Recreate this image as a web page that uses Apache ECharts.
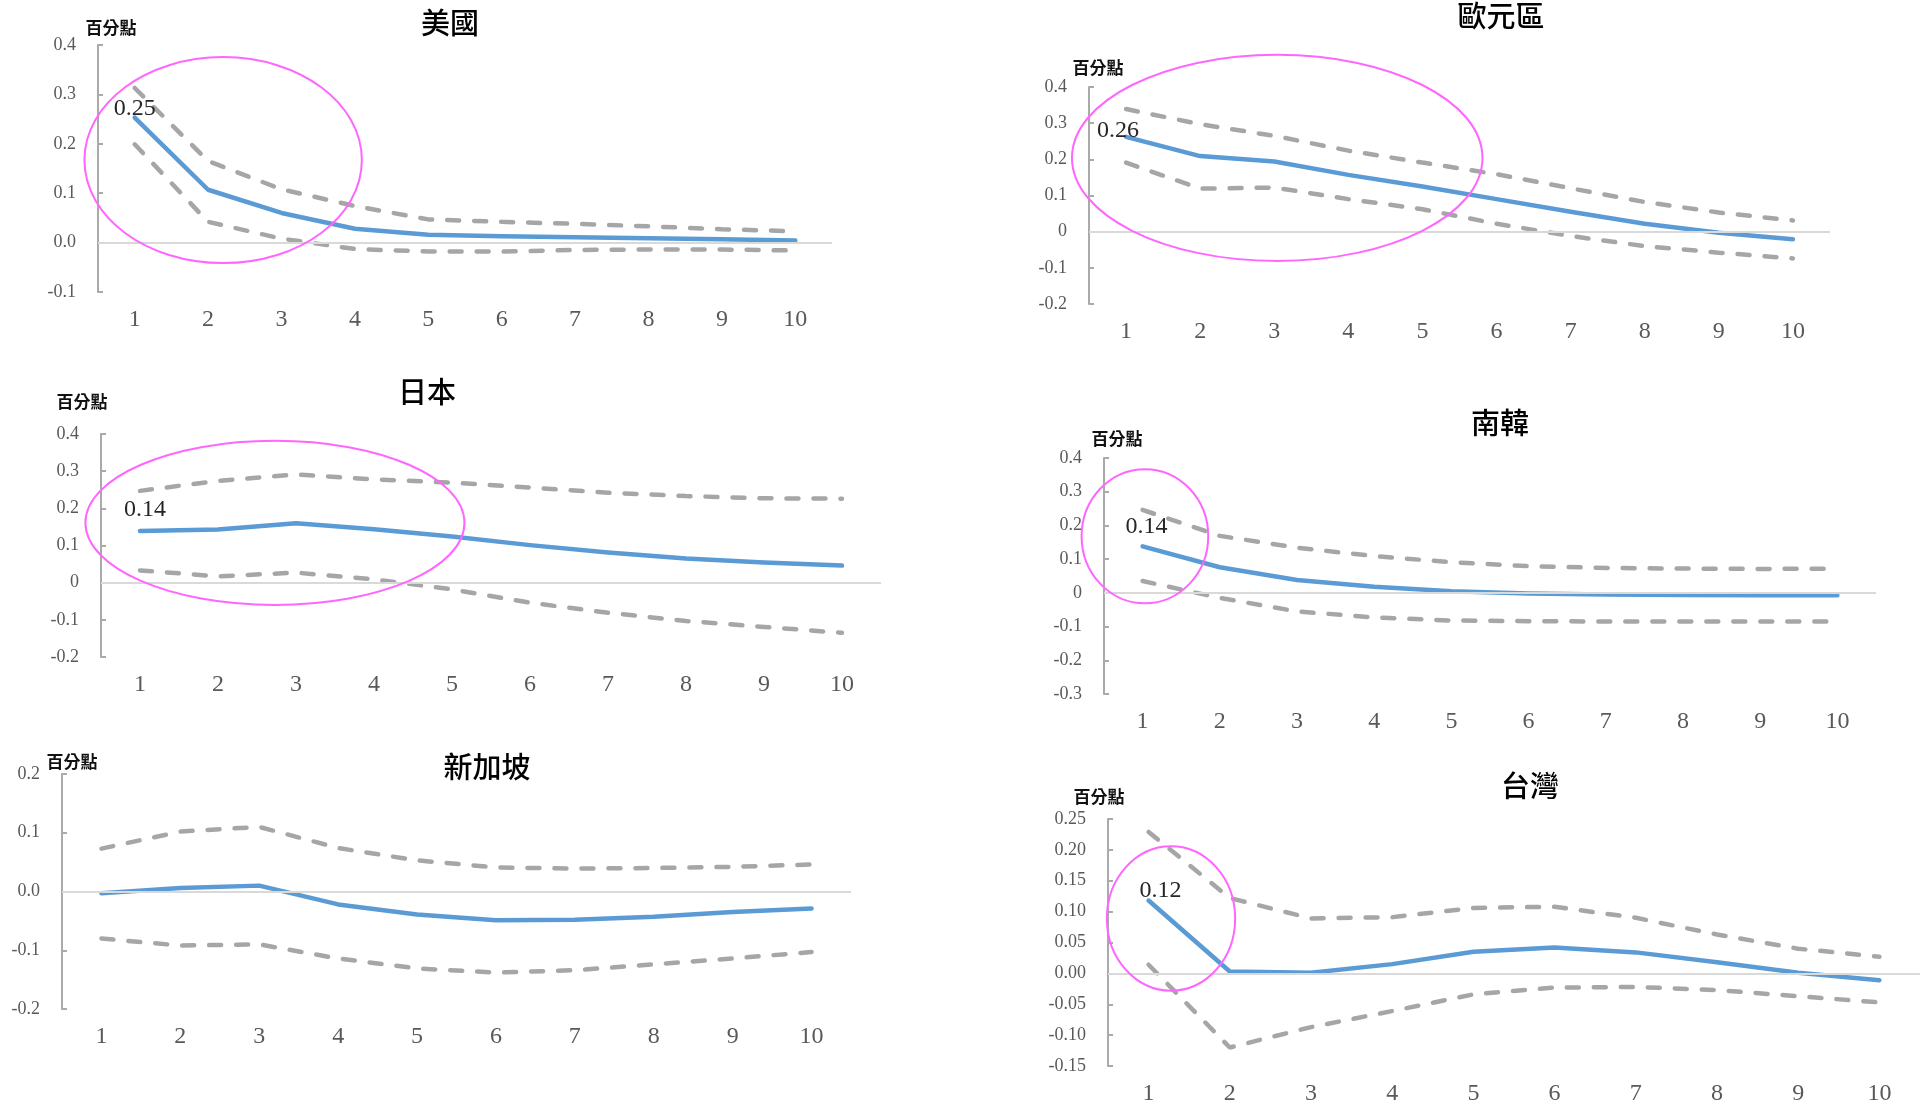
<!DOCTYPE html>
<html>
<head>
<meta charset="utf-8">
<title>衝擊反應</title>
<script src="https://cdn.jsdelivr.net/npm/echarts@6/dist/echarts.min.js"></script>
<style>
  html, body { margin: 0; padding: 0; background: #fff; }
  #chart { width: 1925px; height: 1106px; }
</style>
</head>
<body>
<div id="chart"></div>
<script>
// 期數
var categories = ['1', '2', '3', '4', '5', '6', '7', '8', '9', '10'];

// 美國
var usMid = [0.253, 0.107, 0.060, 0.028, 0.016, 0.013, 0.011, 0.009, 0.007, 0.004];
var usUpper = [0.313, 0.165, 0.108, 0.074, 0.047, 0.042, 0.038, 0.033, 0.027, 0.023];
var usLower = [0.199, 0.042, 0.008, -0.013, -0.018, -0.018, -0.015, -0.014, -0.014, -0.016];
var usTicks = ['-0.1', '0.0', '0.1', '0.2', '0.3', '0.4'];

// 歐元區
var euroMid = [0.262, 0.209, 0.194, 0.157, 0.125, 0.090, 0.055, 0.022, -0.003, -0.021];
var euroUpper = [0.339, 0.297, 0.265, 0.224, 0.191, 0.159, 0.120, 0.082, 0.053, 0.031];
var euroLower = [0.191, 0.119, 0.122, 0.090, 0.062, 0.022, -0.012, -0.040, -0.058, -0.074];
var euroTicks = ['-0.2', '-0.1', '0', '0.1', '0.2', '0.3', '0.4'];

// 日本
var jpMid = [0.139, 0.143, 0.160, 0.144, 0.124, 0.101, 0.081, 0.065, 0.054, 0.046];
var jpUpper = [0.247, 0.274, 0.291, 0.278, 0.269, 0.256, 0.242, 0.233, 0.227, 0.226];
var jpLower = [0.033, 0.017, 0.027, 0.009, -0.018, -0.054, -0.081, -0.103, -0.119, -0.135];
var jpTicks = ['-0.2', '-0.1', '0', '0.1', '0.2', '0.3', '0.4'];

// 南韓
var krMid = [0.138, 0.076, 0.038, 0.018, 0.005, -0.002, -0.005, -0.006, -0.007, -0.007];
var krUpper = [0.246, 0.169, 0.134, 0.109, 0.091, 0.079, 0.074, 0.072, 0.071, 0.072];
var krLower = [0.035, -0.015, -0.055, -0.073, -0.082, -0.084, -0.085, -0.085, -0.085, -0.085];
var krTicks = ['-0.3', '-0.2', '-0.1', '0', '0.1', '0.2', '0.3', '0.4'];

// 新加坡
var sgMid = [-0.003, 0.006, 0.010, -0.022, -0.039, -0.049, -0.048, -0.043, -0.035, -0.029];
var sgUpper = [0.073, 0.102, 0.110, 0.074, 0.053, 0.041, 0.039, 0.040, 0.042, 0.046];
var sgLower = [-0.080, -0.092, -0.090, -0.114, -0.131, -0.138, -0.134, -0.124, -0.114, -0.103];
var sgTicks = ['-0.2', '-0.1', '0.0', '0.1', '0.2'];

// 台灣
var twMid = [0.118, 0.003, 0.001, 0.015, 0.035, 0.042, 0.034, 0.018, 0.001, -0.011];
var twUpper = [0.229, 0.122, 0.089, 0.091, 0.106, 0.108, 0.090, 0.063, 0.040, 0.027];
var twLower = [0.014, -0.120, -0.087, -0.061, -0.034, -0.023, -0.022, -0.027, -0.037, -0.047];
var twTicks = ['-0.15', '-0.10', '-0.05', '0.00', '0.05', '0.10', '0.15', '0.20', '0.25'];

var panels = [
  { name: '美國', mid: usMid, upper: usUpper, lower: usLower, ticks: usTicks, min: -0.1, step: 0.1, mark: true },
  { name: '歐元區', mid: euroMid, upper: euroUpper, lower: euroLower, ticks: euroTicks, min: -0.2, step: 0.1, mark: true },
  { name: '日本', mid: jpMid, upper: jpUpper, lower: jpLower, ticks: jpTicks, min: -0.2, step: 0.1, mark: true },
  { name: '南韓', mid: krMid, upper: krUpper, lower: krLower, ticks: krTicks, min: -0.3, step: 0.1, mark: true },
  { name: '新加坡', mid: sgMid, upper: sgUpper, lower: sgLower, ticks: sgTicks, min: -0.2, step: 0.1, mark: false },
  { name: '台灣', mid: twMid, upper: twUpper, lower: twLower, ticks: twTicks, min: -0.15, step: 0.05, mark: true }
];

// 版面 (px)
var layout = [
  { grid: { left: 98, top: 45, width: 734, height: 247 }, title: [450, 23], unit: [111, 28], labelOffset: [0, 4], ring: [1.205, 0.167, 1.89, 0.2085] },
  { grid: { left: 1089, top: 87, width: 741, height: 217 }, title: [1501, 16], unit: [1098, 68], labelOffset: [-8, 6], ring: [2.04, 0.204, 2.77, 0.285] },
  { grid: { left: 101, top: 434, width: 780, height: 223 }, title: [427, 392], unit: [82, 402], labelOffset: [5, -9], ring: [1.73, 0.161, 2.43, 0.221] },
  { grid: { left: 1104, top: 458, width: 772, height: 236 }, title: [1500, 423], unit: [1117, 439], labelOffset: [4, -7], ring: [0.03, 0.168, 0.82, 0.199] },
  { grid: { left: 62, top: 774, width: 789, height: 235 }, title: [487, 767], unit: [72, 762], labelOffset: [0, 0], ring: null },
  { grid: { left: 1108, top: 819, width: 812, height: 247 }, title: [1530, 786], unit: [1099, 797], labelOffset: [12, 3], ring: [0.276, 0.089, 0.79, 0.117] }
];

var numFont = 'Liberation Serif';
var cjkFont = 'Noto Sans CJK TC';

var chart = echarts.init(document.getElementById('chart'));

var grids = [], xAxes = [], yAxes = [], series = [], texts = [];

panels.forEach(function (p, i) {
  var lay = layout[i];
  var max = p.min + p.step * (p.ticks.length - 1);
  grids.push(lay.grid);
  xAxes.push({
    type: 'category',
    gridIndex: i,
    data: categories,
    boundaryGap: true,
    axisLine: { show: false, onZero: false },
    axisTick: { show: false },
    axisLabel: { color: '#595959', fontFamily: numFont, fontSize: 24, margin: 16, interval: 0 }
  });
  yAxes.push({
    type: 'value',
    gridIndex: i,
    min: p.min,
    max: max,
    interval: p.step,
    splitLine: { show: false },
    axisLine: { show: true, lineStyle: { color: '#aaaaaa', width: 2 } },
    axisTick: { show: true, inside: true, length: 5, lineStyle: { color: '#aaaaaa', width: 2 } },
    axisLabel: {
      color: '#595959', fontFamily: numFont, fontSize: 18, margin: 22,
      formatter: function (v) {
        return p.ticks[Math.round((v - p.min) / p.step)];
      }
    }
  });

  var dashed = { color: '#a6a6a6', width: 4.5, type: [12, 15], cap: 'round' };
  series.push({
    type: 'line', xAxisIndex: i, yAxisIndex: i, data: p.lower,
    symbol: 'none', lineStyle: dashed, silent: true, z: 2,
    markLine: {
      silent: true, symbol: 'none', label: { show: false },
      lineStyle: { color: '#d9d9d9', width: 2, type: 'solid' },
      data: [{ yAxis: 0 }]
    }
  });
  series.push({
    type: 'line', xAxisIndex: i, yAxisIndex: i, data: p.upper,
    symbol: 'none', lineStyle: dashed, silent: true, z: 2
  });

  // 第一期數值標籤
  var midData = p.mid.map(function (v, k) {
    if (k === 0 && p.mark) {
      return {
        value: v,
        label: {
          show: true, position: 'top', distance: 0, offset: lay.labelOffset,
          formatter: function (d) { return d.value.toFixed(2); },
          color: '#262626', fontFamily: numFont, fontSize: 24
        }
      };
    }
    return v;
  });
  series.push({
    type: 'line', xAxisIndex: i, yAxisIndex: i, data: midData,
    symbol: 'circle', symbolSize: 1, showSymbol: true,
    itemStyle: { color: 'rgba(0,0,0,0)' },
    lineStyle: { color: '#5b9bd5', width: 4.5, cap: 'round', join: 'round' },
    silent: true, z: 3
  });

  // 標題與單位
  texts.push({
    type: 'text', silent: true, z: 10,
    style: {
      text: p.name, x: lay.title[0], y: lay.title[1], textAlign: 'center', textVerticalAlign: 'middle',
      fontFamily: cjkFont, fontSize: 29, fontWeight: 500, fill: '#000'
    }
  });
  texts.push({
    type: 'text', silent: true, z: 10,
    style: {
      text: '百分點', x: lay.unit[0], y: lay.unit[1], textAlign: 'center', textVerticalAlign: 'middle',
      fontFamily: cjkFont, fontSize: 17, fontWeight: 'bold', fill: '#111'
    }
  });
});

chart.setOption({
  backgroundColor: '#fff',
  animation: false,
  grid: grids,
  xAxis: xAxes,
  yAxis: yAxes,
  series: series
});

// 圈選標記：以資料座標換算成像素
var rings = [];
layout.forEach(function (lay, i) {
  if (!lay.ring) return;
  var a = chart.convertToPixel({ gridIndex: i }, [0, 0]);
  var b = chart.convertToPixel({ gridIndex: i }, [1, 0.1]);
  var dx = b[0] - a[0];
  var dy = (b[1] - a[1]) / 0.1;
  rings.push({
    type: 'ellipse', silent: true, z: 20,
    shape: {
      cx: a[0] + lay.ring[0] * dx,
      cy: a[1] + lay.ring[1] * dy,
      rx: lay.ring[2] * dx,
      ry: Math.abs(lay.ring[3] * dy)
    },
    style: { fill: 'none', stroke: '#ff66ff', lineWidth: 2 }
  });
});

chart.setOption({ graphic: texts.concat(rings) });
</script>
</body>
</html>
